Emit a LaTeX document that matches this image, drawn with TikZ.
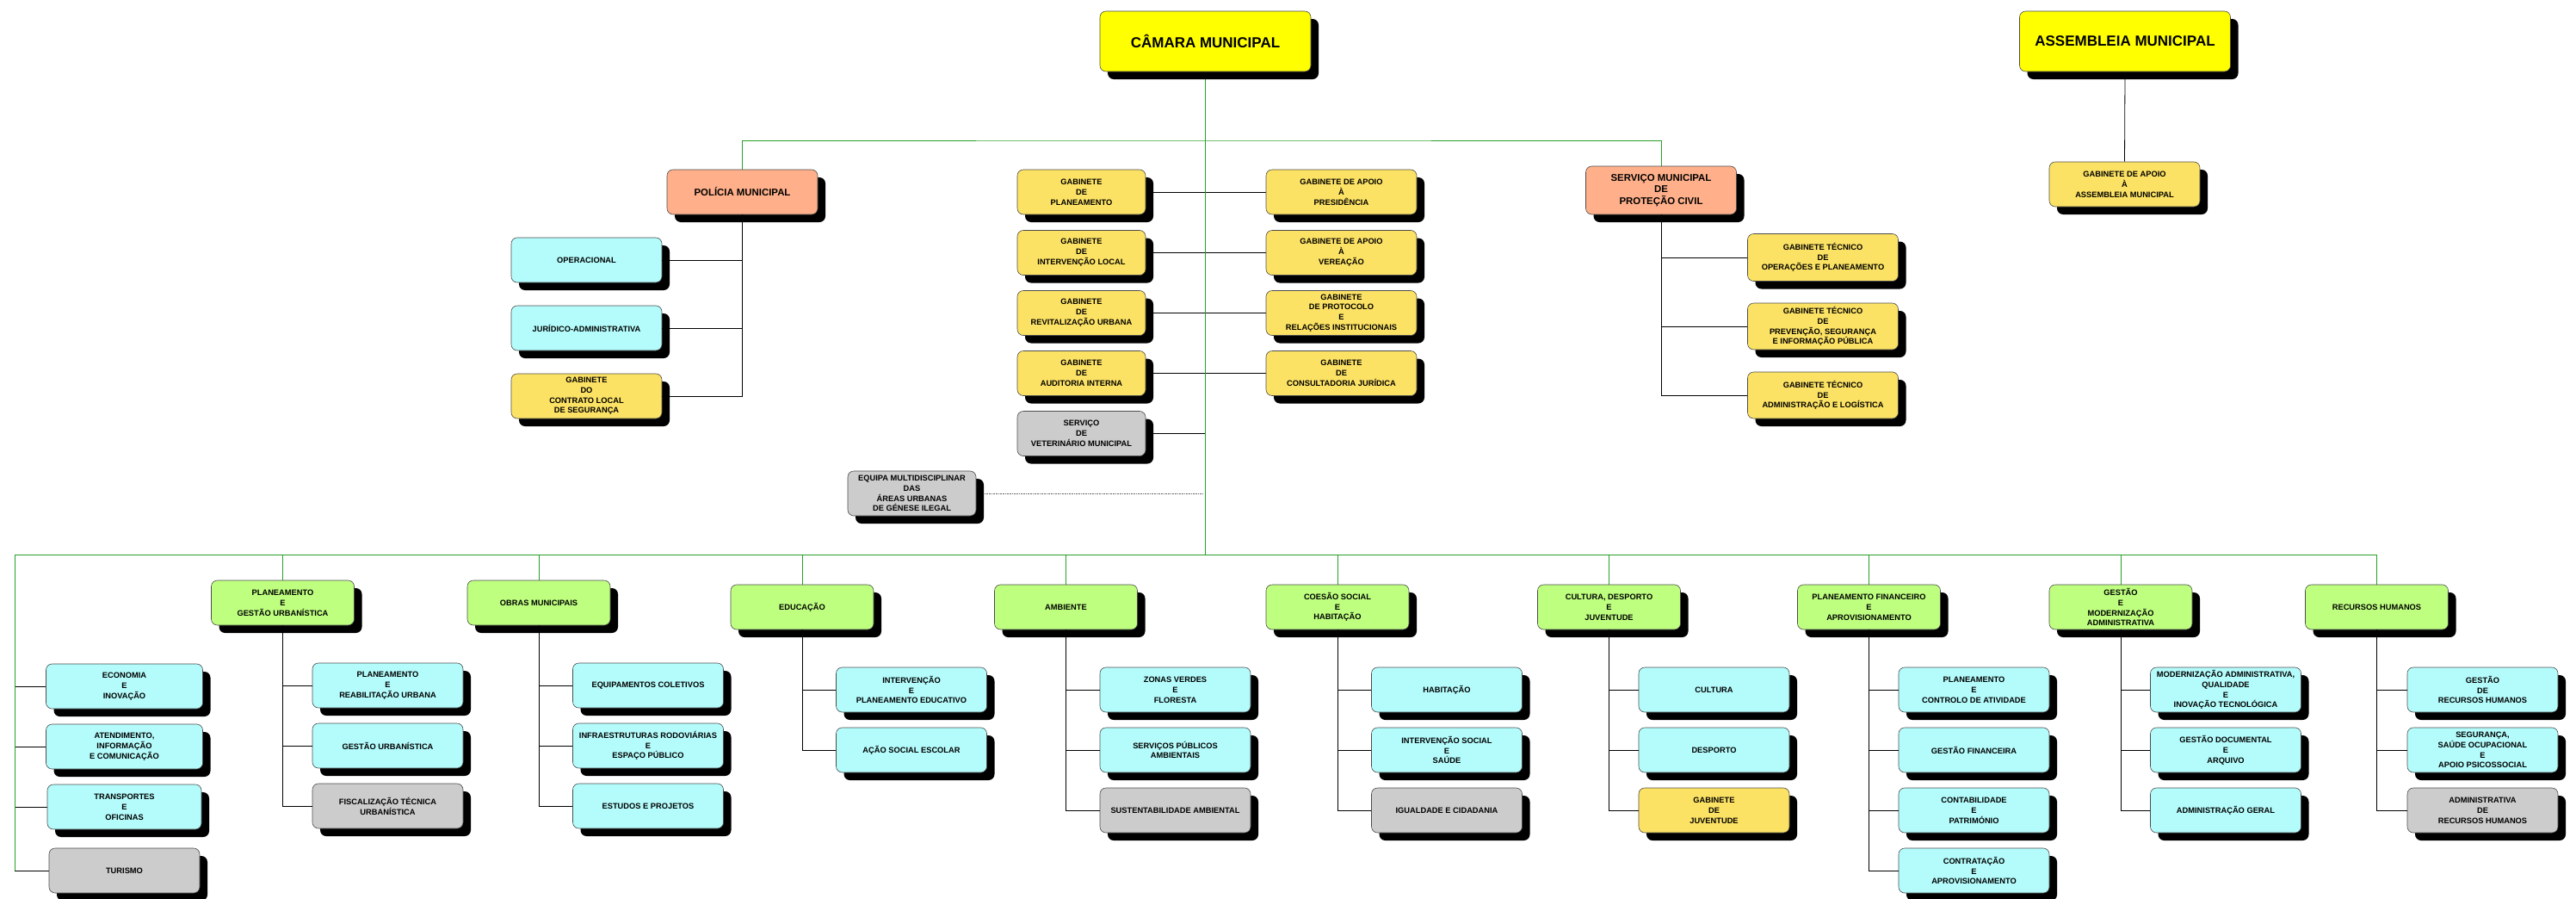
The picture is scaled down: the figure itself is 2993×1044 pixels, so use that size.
\documentclass[tikz,border=0pt]{standalone}
\usepackage{fontspec}
\setmainfont{Liberation Sans}
\usetikzlibrary{trees,shadows,backgrounds}
\definecolor{organyellow}{RGB}{255,255,0}
\definecolor{civicsalmon}{RGB}{255,176,138}
\definecolor{gabyellow}{RGB}{252,226,100}
\definecolor{unitcyan}{RGB}{180,252,252}
\definecolor{deptgreen}{RGB}{190,255,128}
\definecolor{vacantgray}{RGB}{204,204,204}
\definecolor{trunkgreen}{RGB}{40,160,40}
\tikzstyle{box}=[draw=black!70,line width=0.6pt,rounded corners=7pt,align=center,inner sep=1pt,text=black,
  font=\bfseries\fontsize{9.3}{11.8}\selectfont,
  drop shadow={shadow xshift=9pt,shadow yshift=-9pt,fill=black,opacity=1}]
\tikzstyle{organ}=[box,fill=organyellow,minimum width=245pt,minimum height=70pt,font=\bfseries\fontsize{17}{20}\selectfont]
\tikzstyle{civic}=[box,fill=civicsalmon,minimum width=175pt,minimum height=52pt,font=\bfseries\fontsize{11.4}{13.8}\selectfont]
\tikzstyle{gab}=[box,fill=gabyellow,minimum width=175pt,minimum height=52pt]
\tikzstyle{gabnarrow}=[gab,minimum width=149pt]
\tikzstyle{unit}=[box,fill=unitcyan,minimum width=175pt,minimum height=52pt]
\tikzstyle{vacant}=[box,fill=vacantgray,minimum width=175pt,minimum height=52pt]
\tikzstyle{dept}=[box,fill=deptgreen,minimum width=166pt,minimum height=52pt]
\tikzstyle{link}=[draw=black,line width=0.8pt]
\tikzstyle{trunk}=[draw=trunkgreen,line width=1pt]

\begin{document}
\begin{tikzpicture}[x=1pt,y=-1pt,
  edge from parent/.style={link},
  edge from parent path={(\tikzparentnode.south) |- (\tikzchildnode.west)},
  subunits/.style={grow via three points={one child at (#1pt,-96pt) and
  two children at (#1pt,-96pt) and (#1pt,-166pt)}}]
  \useasboundingbox (0,0) rectangle (2993,1044);
  \node[organ] (camara) at (1400.5,48) {CÂMARA MUNICIPAL};
  \node[organ] (assembleia) at (2469,48) {ASSEMBLEIA MUNICIPAL};
  \node[gab] (gabassembleia) at (2468.5,214) {GABINETE DE APOIO\\À\\ASSEMBLEIA MUNICIPAL};

  \path[grow via three points={one child at (-181pt,-79pt) and two children at (-181pt,-79pt) and (-181pt,-158pt)},
    edge from parent path={(\tikzparentnode.south) |- (\tikzchildnode.east)}]
    node[civic] (policia) at (862.5,223) {POLÍCIA MUNICIPAL}
    child { node[unit] (operacional) {OPERACIONAL}}
    child { node[unit] (juridico) {JURÍDICO-ADMINISTRATIVA}}
    child { node[gab] (contrato) {GABINETE\\DO\\CONTRATO LOCAL\\DE SEGURANÇA}};

  \path[grow via three points={one child at (188pt,-78pt) and two children at (188pt,-78pt) and (188pt,-158pt)}]
    node[civic,minimum height=56pt] (protecao) at (1930,221) {SERVIÇO MUNICIPAL\\DE\\PROTEÇÃO CIVIL}
    child { node[gab,minimum height=55pt] (tecoperacoes) {GABINETE TÉCNICO\\DE\\OPERAÇÕES E PLANEAMENTO}}
    child { node[gab,minimum height=54pt] (tecprevencao) {GABINETE TÉCNICO\\DE\\PREVENÇÃO, SEGURANÇA\\E INFORMAÇÃO PÚBLICA}}
    child { node[gab,minimum height=54pt] (tecadministracao) {GABINETE TÉCNICO\\DE\\ADMINISTRAÇÃO E LOGÍSTICA}};

  \node[gabnarrow] (gabplaneamento) at (1256.5,223) {GABINETE\\DE\\PLANEAMENTO};
  \node[gabnarrow] (gabintervencao) at (1256.5,293.5) {GABINETE\\DE\\INTERVENÇÃO LOCAL};
  \node[gabnarrow] (gabrevitalizacao) at (1256.5,363.5) {GABINETE\\DE\\REVITALIZAÇÃO URBANA};
  \node[gabnarrow] (gabauditoria) at (1256.5,433.5) {GABINETE\\DE\\AUDITORIA INTERNA};
  \node[vacant,minimum width=149pt] (veterinario) at (1256.5,503.5) {SERVIÇO\\DE\\VETERINÁRIO MUNICIPAL};
  \node[gab] (gabpresidencia) at (1558.5,223) {GABINETE DE APOIO\\À\\PRESIDÊNCIA};
  \node[gab] (gabvereacao) at (1558.5,293.5) {GABINETE DE APOIO\\À\\VEREAÇÃO};
  \node[gab] (gabprotocolo) at (1558.5,363.5) {GABINETE\\DE PROTOCOLO\\E\\RELAÇÕES INSTITUCIONAIS};
  \node[gab] (gabconsultadoria) at (1558.5,433.5) {GABINETE\\DE\\CONSULTADORIA JURÍDICA};
  \node[vacant,minimum width=149pt] (equipa) at (1059.5,573) {EQUIPA MULTIDISCIPLINAR\\DAS\\ÁREAS URBANAS\\DE GÉNESE ILEGAL};

  \node[unit,minimum width=182pt] (economia) at (144.5,797) {ECONOMIA\\E\\INOVAÇÃO};
  \node[unit,minimum width=182pt] (atendimento) at (144.5,867) {ATENDIMENTO,\\INFORMAÇÃO\\E COMUNICAÇÃO};
  \node[unit,minimum width=179pt] (transportes) at (144.5,937) {TRANSPORTES\\E\\OFICINAS};
  \node[vacant] (turismo) at (144.5,1011) {TURISMO};

  \path[subunits=122] node[dept] (planurbano) at (328.5,700) {PLANEAMENTO\\E\\GESTÃO URBANÍSTICA}
    child { node[unit] (reabilitacao) {PLANEAMENTO\\E\\REABILITAÇÃO URBANA}}
    child { node[unit] (gesturbanistica) {GESTÃO URBANÍSTICA}}
    child { node[vacant] (fiscalizacao) {FISCALIZAÇÃO TÉCNICA\\URBANÍSTICA}};
  \path[subunits=127] node[dept] (obras) at (626,700) {OBRAS MUNICIPAIS}
    child { node[unit] (equipamentos) {EQUIPAMENTOS COLETIVOS}}
    child { node[unit] (infraestruturas) {INFRAESTRUTURAS RODOVIÁRIAS\\E\\ESPAÇO PÚBLICO}}
    child { node[unit] (estudos) {ESTUDOS E PROJETOS}};
  \path[subunits=127] node[dept] (educacao) at (932,705) {EDUCAÇÃO}
    child { node[unit] (planeducativo) {INTERVENÇÃO\\E\\PLANEAMENTO EDUCATIVO}}
    child { node[unit] (acaosocial) {AÇÃO SOCIAL ESCOLAR}};
  \path[subunits=127] node[dept] (ambiente) at (1238.5,705) {AMBIENTE}
    child { node[unit] (zonasverdes) {ZONAS VERDES\\E\\FLORESTA}}
    child { node[unit] (servambientais) {SERVIÇOS PÚBLICOS\\AMBIENTAIS}}
    child { node[vacant] (sustentabilidade) {SUSTENTABILIDADE AMBIENTAL}};
  \path[subunits=127] node[dept] (coesao) at (1554,705) {COESÃO SOCIAL\\E\\HABITAÇÃO}
    child { node[unit] (habitacao) {HABITAÇÃO}}
    child { node[unit] (intsocial) {INTERVENÇÃO SOCIAL\\E\\SAÚDE}}
    child { node[vacant] (igualdade) {IGUALDADE E CIDADANIA}};
  \path[subunits=122] node[dept] (cultura) at (1869.5,705) {CULTURA, DESPORTO\\E\\JUVENTUDE}
    child { node[unit] (culturaunit) {CULTURA}}
    child { node[unit] (desporto) {DESPORTO}}
    child { node[gab] (gabjuventude) {GABINETE\\DE\\JUVENTUDE}};
  \path[subunits=122] node[dept] (planfinanceiro) at (2171.5,705) {PLANEAMENTO FINANCEIRO\\E\\APROVISIONAMENTO}
    child { node[unit] (controlo) {PLANEAMENTO\\E\\CONTROLO DE ATIVIDADE}}
    child { node[unit] (gestfinanceira) {GESTÃO FINANCEIRA}}
    child { node[unit] (contabilidade) {CONTABILIDADE\\E\\PATRIMÓNIO}}
    child { node[unit] (contratacao) {CONTRATAÇÃO\\E\\APROVISIONAMENTO}};
  \path[subunits=122] node[dept] (modernizacao) at (2464,705) {GESTÃO\\E\\MODERNIZAÇÃO\\ADMINISTRATIVA}
    child { node[unit] (qualidade) {MODERNIZAÇÃO ADMINISTRATIVA,\\QUALIDADE\\E\\INOVAÇÃO TECNOLÓGICA}}
    child { node[unit] (arquivo) {GESTÃO DOCUMENTAL\\E\\ARQUIVO}}
    child { node[unit] (admgeral) {ADMINISTRAÇÃO GERAL}};
  \path[subunits=123] node[dept] (rhumanos) at (2761.5,705) {RECURSOS HUMANOS}
    child { node[unit] (gestrh) {GESTÃO\\DE\\RECURSOS HUMANOS}}
    child { node[unit] (seguranca) {SEGURANÇA,\\SAÚDE OCUPACIONAL\\E\\APOIO PSICOSSOCIAL}}
    child { node[vacant] (admrh) {ADMINISTRATIVA\\DE\\RECURSOS HUMANOS}};

  \begin{scope}[on background layer]
    \coordinate (bus) at (1400.5,644);
    \coordinate (topbus) at (1400.5,163);
    \coordinate (equipaend) at (1397,573);
    \coordinate (leftend) at (17,1011);
    \draw[link] (gabplaneamento.east) -- (gabpresidencia.west)
      (gabintervencao.east) -- (gabvereacao.west)
      (gabrevitalizacao.east) -- (gabprotocolo.west)
      (gabauditoria.east) -- (gabconsultadoria.west)
      (veterinario.east) -- (veterinario.east -| camara.south);
    \draw[densely dotted,black!60,line width=0.6pt] (equipa.east) -- (equipaend);
    \draw[link] (assembleia.south) -- (gabassembleia.north);
    \draw[link] (economia.west -| leftend) -- (economia.west)
      (atendimento.west -| leftend) -- (atendimento.west)
      (transportes.west -| leftend) -- (transportes.west)
      (turismo.west -| leftend) -- (turismo.west);
    \draw[trunk] (camara.south) -- (bus);
    \draw[trunk] (policia.north) |- (topbus) -| (protecao.north);
    \draw[trunk] (leftend) |- (bus -| rhumanos.north) -- (rhumanos.north);
    \draw[trunk] (bus -| planurbano.north) -- (planurbano.north)
      (bus -| obras.north) -- (obras.north)
      (bus -| educacao.north) -- (educacao.north)
      (bus -| ambiente.north) -- (ambiente.north)
      (bus -| coesao.north) -- (coesao.north)
      (bus -| cultura.north) -- (cultura.north)
      (bus -| planfinanceiro.north) -- (planfinanceiro.north)
      (bus -| modernizacao.north) -- (modernizacao.north);
  \end{scope}
\end{tikzpicture}
\end{document}
